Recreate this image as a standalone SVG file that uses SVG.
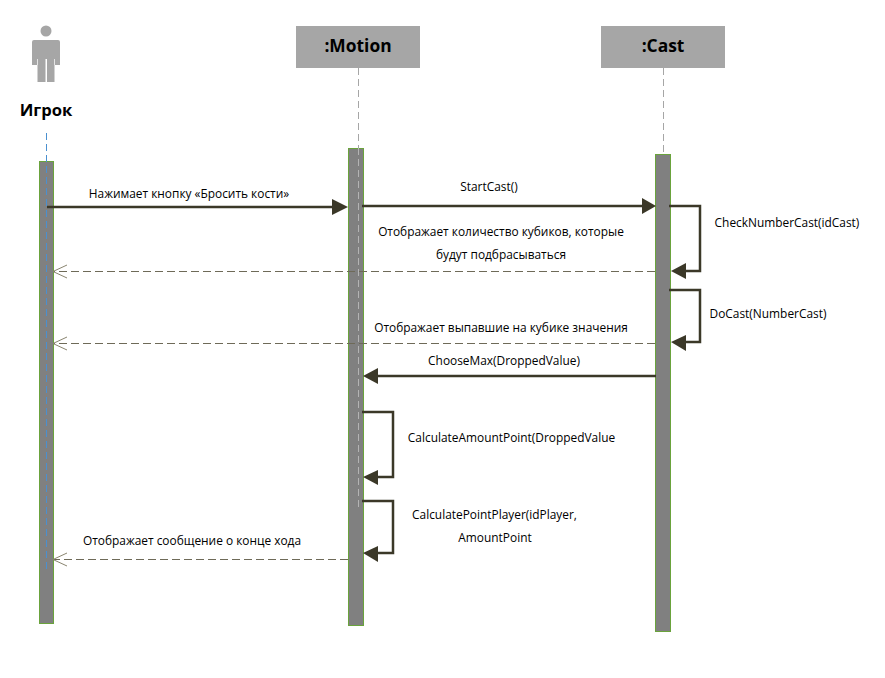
<svg xmlns="http://www.w3.org/2000/svg" width="885" height="678" viewBox="0 0 885 678">
<style>
text{font-family:"Open Sans","Noto Sans","Liberation Sans",sans-serif;font-size:11.9px;fill:#000}
.h{font-weight:700;font-size:17.400px;text-anchor:middle}
.m{text-anchor:middle}
.box{fill:#a6a6a6}
.bar{fill:#808080;stroke:#6aa33c;stroke-width:1}
.life{fill:none;stroke:#a6a6a6;stroke-width:1;stroke-dasharray:7 4}
.msg{fill:none;stroke:#3b3828;stroke-width:2.500}
.ret{fill:none;stroke:#6e6a58;stroke-width:1;stroke-dasharray:8 4}
.open{fill:none;stroke:#8a8570;stroke-width:1}
.tip{fill:#3b3828}
</style>
<g id="actor-player">
<circle cx="46" cy="31" r="5.500" class="box"/>
<path class="box" d="M34 40H58Q60 40 60 42V65H54.500V82H47V59H45.500V82H37.500V65H32V42Q32 40 34 40Z"/>
<path d="M37.500 59V65M54.500 59V65" stroke="#e4e4e4" stroke-width="1" fill="none"/>
<text x="46" y="116" class="h" style="font-size:16.600px">Игрок</text>
</g>
<g id="lifeline-player">
<rect x="39.500" y="161.500" width="14" height="462" class="bar"/>
<line x1="46.500" y1="133" x2="46.500" y2="572" class="life" style="stroke:#4a90d0"/>
</g>
<g id="lifeline-motion">
<rect x="296" y="26" width="124" height="42" class="box"/>
<text x="358" y="52" class="h">:Motion</text>
<line x1="358.500" y1="68" x2="358.500" y2="148" class="life"/>
<rect x="348.500" y="148.500" width="15" height="477" class="bar"/>
<line x1="358.500" y1="148" x2="358.500" y2="508" class="life" style="stroke:#b4b4b4"/>
</g>
<g id="lifeline-cast">
<rect x="601" y="26" width="124" height="42" class="box"/>
<text x="663" y="52" class="h">:Cast</text>
<line x1="663.500" y1="68" x2="663.500" y2="154" class="life"/>
<rect x="655.500" y="154.500" width="15" height="477" class="bar"/>
</g>
<g id="connectors">
<path class="msg" d="M47 207H334"/><path class="tip" d="M332 199L348 207L332 215Z"/>
<path class="msg" d="M362 206H642"/><path class="tip" d="M642 198L656 206L642 214Z"/>
<path class="msg" d="M669 206H700V271H684"/><path class="tip" d="M671 271L686 263V279Z"/>
<path class="ret" d="M655 271.500H54"/><path class="open" d="M67 265L53 271.500L67 278"/>
<path class="msg" d="M669 290H700V342H684"/><path class="tip" d="M671 342L686 335V351Z"/>
<path class="ret" d="M655 343.500H54"/><path class="open" d="M67 337L53 343.500L67 350"/>
<path class="msg" d="M656 376H376"/><path class="tip" d="M363 376L378 368V384Z"/>
<path class="msg" d="M362 412H393V477H376"/><path class="tip" d="M363 477L378 470V485Z"/>
<path class="msg" d="M362 501H393V553H376"/><path class="tip" d="M363 553L378 546V562Z"/>
<path class="ret" d="M348 559.500H54"/><path class="open" d="M67 553L53 559.500L67 566"/>
</g>
<g id="labels">
<text x="189" y="198" class="m">Нажимает кнопку «Бросить кости»</text>
<text x="489" y="191" class="m">StartCast()</text>
<text x="787" y="227" class="m">CheckNumberCast(idCast)</text>
<text x="501" y="236" class="m">Отображает количество кубиков, которые</text>
<text x="501" y="259" class="m">будут подбрасываться</text>
<text x="768" y="318" class="m">DoCast(NumberCast)</text>
<text x="501" y="332" class="m">Отображает выпавшие на кубике значения</text>
<text x="504" y="365" class="m">ChooseMax(DroppedValue)</text>
<text x="511.500" y="442" class="m">CalculateAmountPoint(DroppedValue</text>
<text x="494.500" y="519" class="m">CalculatePointPlayer(idPlayer,</text>
<text x="495" y="542" class="m">AmountPoint</text>
<text x="192" y="545" class="m">Отображает сообщение о конце хода</text>
</g>
</svg>
